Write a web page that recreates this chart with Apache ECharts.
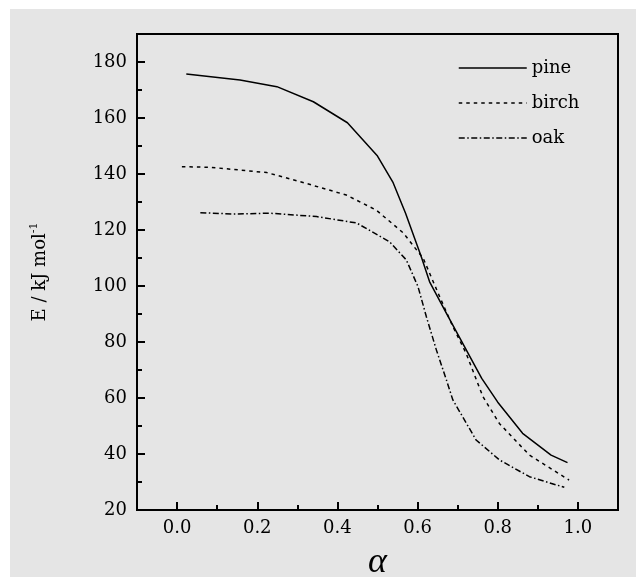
<!DOCTYPE html>
<html><head><meta charset="utf-8">
<script src="https://cdn.jsdelivr.net/npm/echarts@6/dist/echarts.min.js"></script>
<style>
html,body{margin:0;padding:0;background:#fff;width:636px;height:577px;overflow:hidden}
#bg{position:absolute;left:10px;top:9px;width:626px;height:568px;background:#e5e5e5}
#c{position:absolute;left:0;top:0;width:636px;height:577px}
</style></head>
<body><div id="bg"></div><div id="c"></div>
<script>
// ---- data ----
const xTickLabels = ['-0.1','0.0','0.1','0.2','0.3','0.4','0.5','0.6','0.7','0.8','0.9','1.0','1.1'];
const seriesNames = ['pine','birch','oak'];
const pine = [[0.023,175.7],[0.157,173.6],[0.249,171.2],[0.34,165.8],[0.425,158.3],[0.50,146.4],[0.539,136.9],[0.57,126.0],[0.609,110.5],[0.63,101.5],[0.672,90.2],[0.76,67.0],[0.80,58.5],[0.862,47.4],[0.933,39.6],[0.974,36.9]];
const birch = [[0.012,142.6],[0.083,142.4],[0.224,140.5],[0.306,137.3],[0.422,132.5],[0.497,127.1],[0.564,119.0],[0.614,109.9],[0.655,96.2],[0.688,85.5],[0.721,76.0],[0.763,60.5],[0.804,50.9],[0.879,39.6],[0.978,30.7]];
const oak = [[0.058,126.2],[0.141,125.7],[0.232,126.0],[0.348,124.8],[0.448,122.5],[0.53,115.8],[0.572,109.3],[0.601,99.8],[0.622,89.0],[0.647,77.1],[0.672,66.4],[0.688,59.3],[0.746,45.0],[0.804,37.9],[0.879,31.9],[0.966,28.1]];

const FONT = 'DejaVu Serif';
const chart = echarts.init(document.getElementById('c'), null, {renderer:'canvas'});
const showEven = (i) => i % 2 === 1;
const lineSeries = (name, data, type) => ({
  name, type:'line', xAxisIndex:1, yAxisIndex:0, data,
  symbol:'none', symbolSize:0, showSymbol:false,
  lineStyle:{color:'#000', width:1.5, type}, itemStyle:{color:'#000'}
});
chart.setOption({
  backgroundColor: 'transparent',
  animation: false,
  grid: {left:137, right:18, top:34, bottom:67, show:true, borderColor:'#000', borderWidth:2, backgroundColor:'transparent',
         containLabel:false, outerBoundsMode:'none'},
  legend: {
    data: seriesNames, orient:'vertical', left:453, top:54,
    itemWidth:68, itemHeight:14, itemGap:17,
    itemStyle:{color:'transparent', borderWidth:0, opacity:0},
    lineStyle:{color:'#000', width:1.5, opacity:1},
    textStyle:{fontFamily:FONT, fontSize:18, color:'#000'}
  },
  xAxis: [
    {type:'category', data:xTickLabels, boundaryGap:false, position:'bottom',
     axisLine:{show:false, onZero:false},
     axisTick:{show:true, inside:true, length:8, interval:showEven, lineStyle:{color:'#000', width:2}},
     axisLabel:{interval:showEven, margin:9, fontFamily:FONT, fontSize:18, color:'#000'},
     splitLine:{show:false},
     name:'α', nameLocation:'middle', nameGap:35,
     nameTextStyle:{fontFamily:'Liberation Serif', fontStyle:'italic', fontSize:36, color:'#000'}
    },
    {type:'value', min:-0.1, max:1.1, interval:0.1, position:'bottom',
     axisLine:{show:false, onZero:false},
     axisTick:{show:true, inside:true, length:5, lineStyle:{color:'#000', width:2}},
     axisLabel:{show:false}, splitLine:{show:false}}
  ],
  yAxis: [
    {type:'value', min:20, max:190, interval:20, position:'left',
     axisLine:{show:false, onZero:false},
     axisTick:{show:true, inside:true, length:8, lineStyle:{color:'#000', width:2}},
     axisLabel:{margin:10, fontFamily:FONT, fontSize:18, color:'#000', formatter:(v)=> v>180 ? '' : String(v)},
     splitLine:{show:false},
     name:'E / kJ mol{sup|-1}', nameLocation:'middle', nameGap:86, nameRotate:90,
     nameTextStyle:{fontFamily:FONT, fontSize:18, color:'#000', lineHeight:22,
       rich:{sup:{fontFamily:FONT, fontSize:11, color:'#000', verticalAlign:'top', lineHeight:22, padding:[0,0,10,0]}}}
    },
    {type:'value', min:20, max:190, interval:10, position:'left',
     axisLine:{show:false, onZero:false},
     axisTick:{show:true, inside:true, length:5, lineStyle:{color:'#000', width:2}},
     axisLabel:{show:false}, splitLine:{show:false}}
  ],
  series: [
    lineSeries('pine', pine, 'solid'),
    lineSeries('birch', birch, [3.5,4]),
    lineSeries('oak', oak, [6,2.5,1.5,2.5])
  ]
});
</script></body></html>
